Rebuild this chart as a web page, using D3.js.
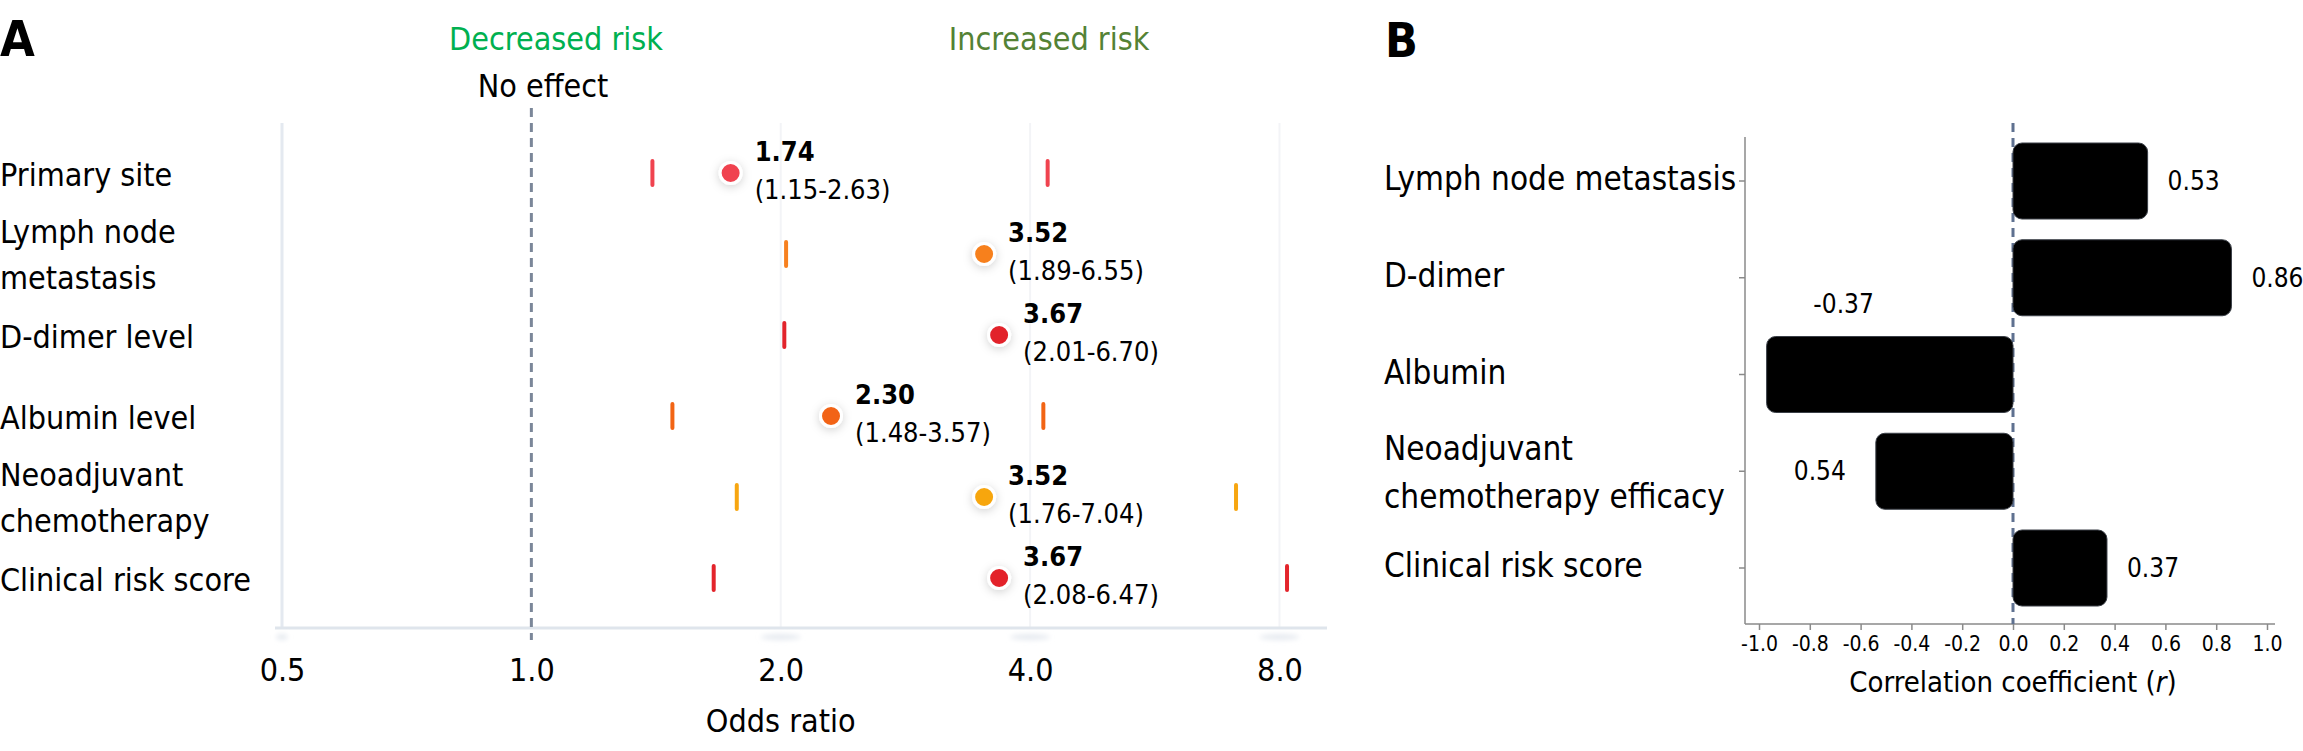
<!DOCTYPE html>
<html><head><meta charset="utf-8">
<script src="https://cdn.jsdelivr.net/npm/d3@7"></script>
<style>
body{margin:0;background:#fff}
text{font-family:'DejaVu Sans Condensed','DejaVu Sans',sans-serif}
</style>
</head><body>
<svg id="c" width="2303" height="751"></svg>
<script>
// ---------- Panel A data ----------
const forestCategories = [["Primary site"],["Lymph node","metastasis"],["D-dimer level"],["Albumin level"],["Neoadjuvant","chemotherapy"],["Clinical risk score"]];
const oddsRatios = [1.74, 3.52, 3.67, 2.30, 3.52, 3.67];
const orLabels = ["1.74","3.52","3.67","2.30","3.52","3.67"];
const ciLabels = ["(1.15-2.63)","(1.89-6.55)","(2.01-6.70)","(1.48-3.57)","(1.76-7.04)","(2.08-6.47)"];
const ciLowDrawn = [1.40, 2.03, 2.02, 1.48, 1.77, 1.66];
const ciHighDrawn = [4.20, null, null, 4.15, 7.09, 8.17];
const pointColors = ["#f0434f","#f7801f","#e2232b","#f26414","#f7a611","#e3242b"];
const orTicks = [0.5, 1, 2, 4, 8];
const orTickLabels = ["0.5","1.0","2.0","4.0","8.0"];

// ---------- Panel B data ----------
const corrCategories = [["Lymph node metastasis"],["D-dimer"],["Albumin"],["Neoadjuvant","chemotherapy efficacy"],["Clinical risk score"]];
const corrBars = [0.53, 0.86, -0.97, -0.54, 0.37];
const corrLabels = ["0.53","0.86","-0.37","0.54","0.37"];
const corrLabelSide = ["right","right","above","left","right"];
const corrTicks = [-1.0,-0.8,-0.6,-0.4,-0.2,0.0,0.2,0.4,0.6,0.8,1.0];

const FONT = "'DejaVu Sans Condensed','DejaVu Sans',sans-serif";
const svg = d3.select("#c");
const defs = svg.append("defs");
const f = defs.append("filter").attr("id","sh").attr("x","-100%").attr("y","-100%").attr("width","300%").attr("height","300%");
f.append("feDropShadow").attr("dx",0).attr("dy",2).attr("stdDeviation",5).attr("flood-color","#000").attr("flood-opacity",0.18);
const bl = defs.append("filter").attr("id","bl").attr("x","-50%").attr("y","-200%").attr("width","200%").attr("height","500%");
bl.append("feGaussianBlur").attr("stdDeviation",2.5);

// ================= PANEL A =================
const xA = d3.scaleLog().base(2).domain([0.5, 9.13]).range([282, 1327]);
const yA = d3.scalePoint().domain(d3.range(forestCategories.length)).range([173, 578]);
const plotTop = 123, plotBottom = 628;

svg.append("text").attr("x",0).attr("y",56).attr("font-size",50).attr("font-weight","bold").text("A");
svg.append("text").attr("x",556).attr("y",50).attr("font-size",32).attr("fill","#00b050").attr("text-anchor","middle").text("Decreased risk");
svg.append("text").attr("x",1049).attr("y",50).attr("font-size",32).attr("fill","#548235").attr("text-anchor","middle").text("Increased risk");
svg.append("text").attr("x",543).attr("y",97).attr("font-size",32).attr("text-anchor","middle").text("No effect");

// grid lines
const gA = svg.append("g");
gA.selectAll("line.grid").data(orTicks.filter(t => t !== 1)).join("line")
  .attr("x1", d => xA(d)).attr("x2", d => xA(d))
  .attr("y1", plotTop).attr("y2", plotBottom)
  .attr("stroke", d => d === 0.5 ? "#e4e9f0" : "#f3f4f7")
  .attr("stroke-width", d => d === 0.5 ? 3 : 2);
// axis line
gA.append("line").attr("x1", xA(0.5) - 7).attr("x2", xA.range()[1])
  .attr("y1", plotBottom).attr("y2", plotBottom).attr("stroke","#dfe5ec").attr("stroke-width",3);
// faint tick smudges
gA.selectAll("ellipse").data(orTicks.filter(t => t !== 1)).join("ellipse")
  .attr("cx", d => xA(d)).attr("cy", plotBottom + 9).attr("rx", d => d === 0.5 ? 6 : 20).attr("ry", 3)
  .attr("fill","#e6eaf0").attr("filter","url(#bl)");

// tick labels
const axA = d3.axisBottom(xA).tickValues(orTicks).tickFormat((d,i) => orTickLabels[i]).tickSize(0).tickPadding(0);
const axAg = svg.append("g").attr("transform",`translate(0,${plotBottom})`).call(axA);
axAg.select(".domain").remove();
axAg.selectAll("text").attr("font-size",32).attr("fill","#000").attr("dy",0).attr("y",53)
  .style("font-family",FONT);
svg.append("text").attr("x",xA(2)).attr("y",732).attr("font-size",32).attr("text-anchor","middle").text("Odds ratio");

// no effect dashed line
svg.append("line").attr("x1",xA(1)).attr("x2",xA(1)).attr("y1",108).attr("y2",640)
  .attr("stroke","#7b8799").attr("stroke-width",3).attr("stroke-dasharray","9,6");

// category labels
forestCategories.forEach((lines, i) => {
  const y0 = yA(i);
  const t = svg.append("text").attr("font-size",32);
  if (lines.length === 1) {
    t.append("tspan").attr("x",0).attr("y",y0 + 13).text(lines[0]);
  } else {
    t.append("tspan").attr("x",0).attr("y",y0 - 11).text(lines[0]);
    t.append("tspan").attr("x",0).attr("y",y0 + 35).text(lines[1]);
  }
});

// CI ticks
const ciData = [];
oddsRatios.forEach((v,i) => {
  if (ciLowDrawn[i] != null) ciData.push({v: ciLowDrawn[i], i});
  if (ciHighDrawn[i] != null) ciData.push({v: ciHighDrawn[i], i});
});
svg.append("g").selectAll("line").data(ciData).join("line")
  .attr("x1", d => xA(d.v)).attr("x2", d => xA(d.v))
  .attr("y1", d => yA(d.i) - 12).attr("y2", d => yA(d.i) + 12)
  .attr("stroke", d => pointColors[d.i]).attr("stroke-width",4).attr("stroke-linecap","round");

// points
svg.append("g").selectAll("circle").data(oddsRatios).join("circle")
  .attr("cx", d => xA(d)).attr("cy", (d,i) => yA(i)).attr("r",10.5)
  .attr("fill", (d,i) => pointColors[i]).attr("stroke","#fff").attr("stroke-width",3)
  .attr("filter","url(#sh)");

// value labels
const vl = svg.append("g");
oddsRatios.forEach((v,i) => {
  vl.append("text").attr("x", xA(v) + 24).attr("y", yA(i) - 12).attr("font-size",27).attr("font-weight","bold").text(orLabels[i]);
  vl.append("text").attr("x", xA(v) + 24).attr("y", yA(i) + 26).attr("font-size",27).text(ciLabels[i]);
});

// ================= PANEL B =================
const xB = d3.scaleLinear().domain([-1, 1]).range([1759, 2267]);
const yB = d3.scalePoint().domain(d3.range(corrCategories.length)).range([181, 568]);
const barH = 76;
const bAxisY = 624, bAxisX = 1745;

svg.append("text").attr("x",1385).attr("y",57).attr("font-size",48).attr("font-weight","bold").text("B");

// axes
const axBx = d3.axisBottom(xB).tickValues(corrTicks).tickFormat(d3.format(".1f")).tickSize(6).tickPadding(6);
const gbx = svg.append("g").attr("transform",`translate(0,${bAxisY})`).call(axBx);
gbx.select(".domain").attr("d",`M${bAxisX},0H${xB(1)+8}`).attr("stroke","#8a8a8a").attr("stroke-width",1.5);
gbx.selectAll(".tick line").attr("stroke","#8a8a8a").attr("stroke-width",1.5);
gbx.selectAll("text").attr("font-size",21).attr("fill","#000").style("font-family",FONT);
gbx.selectAll(".tick text").text(d => d3.format(".1f")(d).replace("−","-"));

svg.append("line").attr("x1",bAxisX).attr("x2",bAxisX).attr("y1",137).attr("y2",bAxisY)
  .attr("stroke","#8a8a8a").attr("stroke-width",1.5);
svg.append("g").selectAll("line").data(d3.range(corrCategories.length)).join("line")
  .attr("x1",bAxisX - 6).attr("x2",bAxisX).attr("y1", d => yB(d)).attr("y2", d => yB(d))
  .attr("stroke","#8a8a8a").attr("stroke-width",1.5);

const tt = svg.append("text").attr("x",xB(0)).attr("y",692).attr("font-size",29).attr("text-anchor","middle");
tt.append("tspan").text("Correlation coefficient (");
tt.append("tspan").attr("font-style","italic").text("r");
tt.append("tspan").text(")");

// zero dashed line
svg.append("line").attr("x1",xB(0)).attr("x2",xB(0)).attr("y1",123).attr("y2",bAxisY)
  .attr("stroke","#5f7190").attr("stroke-width",3).attr("stroke-dasharray","9,6");

// category labels
corrCategories.forEach((lines,i) => {
  const y0 = yB(i);
  const t = svg.append("text").attr("font-size",33);
  if (lines.length === 1) {
    t.append("tspan").attr("x",1384).attr("y",y0 + 9).text(lines[0]);
  } else {
    t.append("tspan").attr("x",1384).attr("y",y0 - 11).text(lines[0]);
    t.append("tspan").attr("x",1384).attr("y",y0 + 37).text(lines[1]);
  }
});

// bars
svg.append("g").selectAll("rect").data(corrBars).join("rect")
  .attr("x", d => Math.min(xB(0), xB(d))).attr("width", d => Math.abs(xB(d) - xB(0)))
  .attr("y", (d,i) => yB(i) - barH/2).attr("height", barH)
  .attr("rx",9).attr("ry",9).attr("fill","#000").attr("stroke","#3a3f47").attr("stroke-width",1);

// bar labels
corrBars.forEach((v,i) => {
  const side = corrLabelSide[i];
  const t = svg.append("text").attr("font-size",26).text(corrLabels[i]);
  if (side === "right") t.attr("x", xB(v) + 20).attr("y", yB(i) + 9);
  else if (side === "left") t.attr("x", xB(v) - 30).attr("y", yB(i) + 9).attr("text-anchor","end");
  else t.attr("x", xB(v) + 77).attr("y", yB(i) - barH/2 - 24).attr("text-anchor","middle");
});
</script>
</body></html>
